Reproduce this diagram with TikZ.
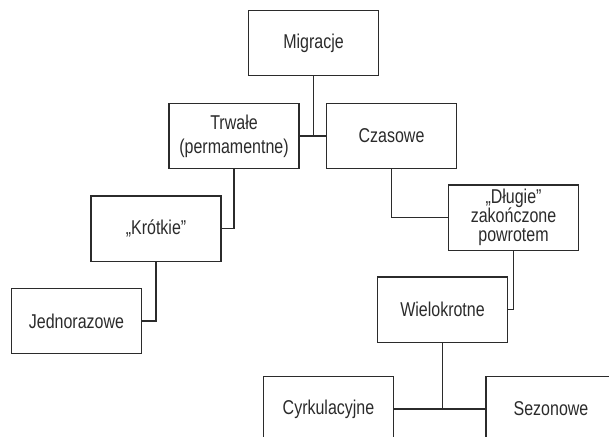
\documentclass[tikz,border=0pt]{standalone}
\usepackage{fontspec}
\setmainfont{Liberation Sans}[FakeStretch=0.8]
\definecolor{ink}{HTML}{2B2B2B}
\begin{document}
\begin{tikzpicture}[x=0.75pt,y=-0.75pt,
  box/.style={draw=ink,line width=1pt,rectangle,inner sep=0pt,outer sep=0pt,
    minimum width=97.5pt,minimum height=49pt,align=center,text=ink,
    font=\fontsize{15}{14.3}\selectfont},
  link/.style={draw=ink,line width=1pt}]
\useasboundingbox (0,0) rectangle (609,436);
\clip (0,0) rectangle (609,436);
\node[box] (mig) at (313.5,43) {Migracje};
\node[box,align=center] (trw) at (234,136) {Trwałe\\[3.7pt](permamentne)};
\node[box] (cza) at (391.5,136) {Czasowe};
\node[box] (kro) at (156,228.5) {„Krótkie”};
\node[box] (jed) at (76.5,321) {Jednorazowe};
\node[box] (dlu) at (513.5,217.5) {„Długie”\\zakończone\\powrotem};
\node[box] (wie) at (442.5,309.5) {Wielokrotne};
\node[box] (cyr) at (328.5,409) {Cyrkulacyjne};
\node[box] (sez) at (551,409) {Sezonowe};
\coordinate (j1) at (mig.south |- trw.east);
\coordinate (j2) at (wie.south |- cyr.east);
\draw[link] (mig.south) -- (j1);
\draw[link] (trw.east) -- (cza.west);
\draw[link] (trw.south) |- (kro.east);
\draw[link] (kro.south) |- (jed.east);
\draw[link] (cza.south) |- (dlu.west);
\draw[link] (dlu.south) |- (wie.east);
\draw[link] (wie.south) -- (j2);
\draw[link] (cyr.east) -- (sez.west);
\end{tikzpicture}
\end{document}
